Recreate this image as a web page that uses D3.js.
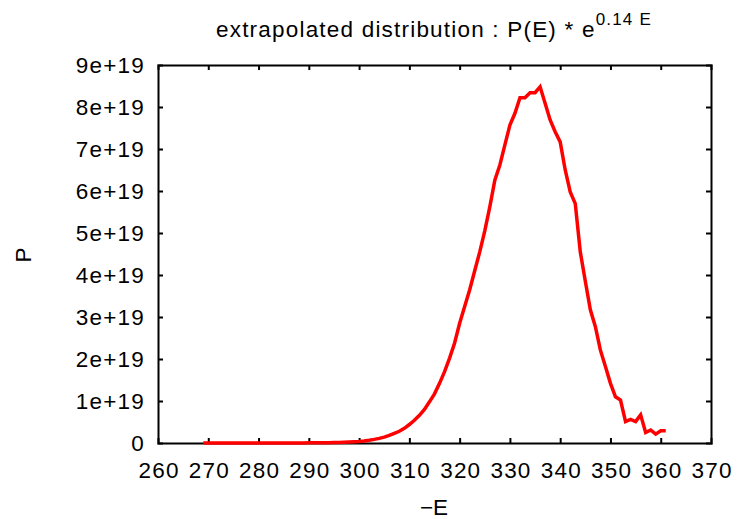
<!DOCTYPE html>
<html>
<head>
<meta charset="utf-8">
<script src="https://cdn.jsdelivr.net/npm/d3@7"></script>
<style>
  body { margin: 0; background: #fff; }
  text { font-family: "Liberation Sans", Arial, sans-serif; fill: #000; }
</style>
</head>
<body>
<div id="visual"></div>
<script>
// -E values and P values (in units of 1e19)
const energies = d3.range(269, 362);
const pValues = [
  0, 0, 0, 0, 0, 0, 0, 0, 0, 0,           // 269-278
  0, 0, 0, 0, 0, 0, 0, 0.001, 0.001, 0.002, // 279-288
  0.002, 0.003, 0.004, 0.005, 0.006, 0.008, 0.010, 0.013, 0.017, 0.022, // 289-298
  0.029, 0.038, 0.050, 0.066, 0.086, 0.11, 0.14, 0.18, 0.23, 0.28,      // 299-308
  0.35, 0.44, 0.54, 0.66, 0.80, 0.98, 1.17, 1.42, 1.70, 2.02,          // 309-318
  2.38, 2.85, 3.25, 3.65, 4.10, 4.55, 5.05, 5.62, 6.26, 6.62,          // 319-328
  7.10, 7.57, 7.85, 8.22, 8.22, 8.34, 8.34, 8.48, 8.09, 7.69,          // 329-338
  7.41, 7.17, 6.50, 5.98, 5.70, 4.55, 3.85, 3.17, 2.77, 2.21,          // 339-348
  1.82, 1.42, 1.10, 1.02, 0.51, 0.56, 0.51, 0.67, 0.25, 0.31,          // 349-358
  0.21, 0.29, 0.29                                                      // 359-361
];
const xTicks = d3.range(260, 371, 10);
const yTicks = d3.range(0, 10, 1);
const yTickLabels = ["0", "1e+19", "2e+19", "3e+19", "4e+19", "5e+19", "6e+19", "7e+19", "8e+19", "9e+19"];

const data = energies.map((e, i) => ({ e: e, p: pValues[i] }));

const W = 739, H = 519;
const margin = { top: 65, right: 28, bottom: 76, left: 158 };
const width = W - margin.left - margin.right;
const height = H - margin.top - margin.bottom;

const svg = d3.select("#visual")
  .append("svg")
  .attr("width", W)
  .attr("height", H);

const g = svg.append("g")
  .attr("transform", "translate(" + margin.left + "," + margin.top + ")");

const x = d3.scaleLinear().domain([260, 370]).range([0, width]);
const y = d3.scaleLinear().domain([0, 9]).range([height, 0]);

const fontSize = 22.5;
const spacing = "1.2px";

// axes with inward ticks (mirrored on top/right)
const axBottom = g.append("g")
  .attr("transform", "translate(0," + height + ")")
  .call(d3.axisBottom(x).tickValues(xTicks).tickSize(-5).tickPadding(19).tickFormat(d3.format("d")));
const axTop = g.append("g")
  .call(d3.axisTop(x).tickValues(xTicks).tickSize(-5).tickFormat(""));
const axLeft = g.append("g")
  .call(d3.axisLeft(y).tickValues(yTicks).tickSize(-5).tickPadding(15).tickFormat((d, i) => yTickLabels[i]));
const axRight = g.append("g")
  .attr("transform", "translate(" + width + ",0)")
  .call(d3.axisRight(y).tickValues(yTicks).tickSize(-5).tickFormat(""));

[axBottom, axTop, axLeft, axRight].forEach(a => {
  a.select(".domain").attr("stroke", "#000").attr("stroke-width", 2);
  a.selectAll(".tick line").attr("stroke", "#000").attr("stroke-width", 2);
  a.selectAll(".tick text").attr("font-size", fontSize).attr("font-family", null)
    .attr("letter-spacing", spacing);
});
// compensate for the trailing letter spacing
axBottom.selectAll(".tick text").attr("dx", "0.6px");
axLeft.selectAll(".tick text").attr("dx", "2px");
// hide the end ticks that sit on the frame corners
axBottom.selectAll(".tick").filter(d => d === 260 || d === 370).select("line").remove();
axTop.selectAll(".tick").filter(d => d === 260 || d === 370).select("line").remove();
axLeft.selectAll(".tick").filter(d => d === 0 || d === 9).select("line").remove();
axRight.selectAll(".tick").filter(d => d === 0 || d === 9).select("line").remove();

// curve
const line = d3.line()
  .x(d => x(d.e))
  .y(d => y(d.p));

g.append("path")
  .datum(data)
  .attr("fill", "none")
  .attr("stroke", "#ff0000")
  .attr("stroke-width", 3.5)
  .attr("stroke-linejoin", "miter")
  .attr("d", line);

// title
const title = svg.append("text")
  .attr("x", 434)
  .attr("y", 37)
  .attr("text-anchor", "middle")
  .attr("font-size", fontSize)
  .attr("letter-spacing", spacing);
title.append("tspan").text("extrapolated distribution : P(E) * e");
title.append("tspan").attr("dy", -12).attr("font-size", 17).text("0.14 E");

// axis labels
svg.append("text")
  .attr("x", 434)
  .attr("y", 515)
  .attr("text-anchor", "middle")
  .attr("font-size", fontSize)
  .text("\u2212E");

svg.append("text")
  .attr("transform", "translate(31,255) rotate(-90)")
  .attr("text-anchor", "middle")
  .attr("font-size", fontSize)
  .text("P");
</script>
</body>
</html>
